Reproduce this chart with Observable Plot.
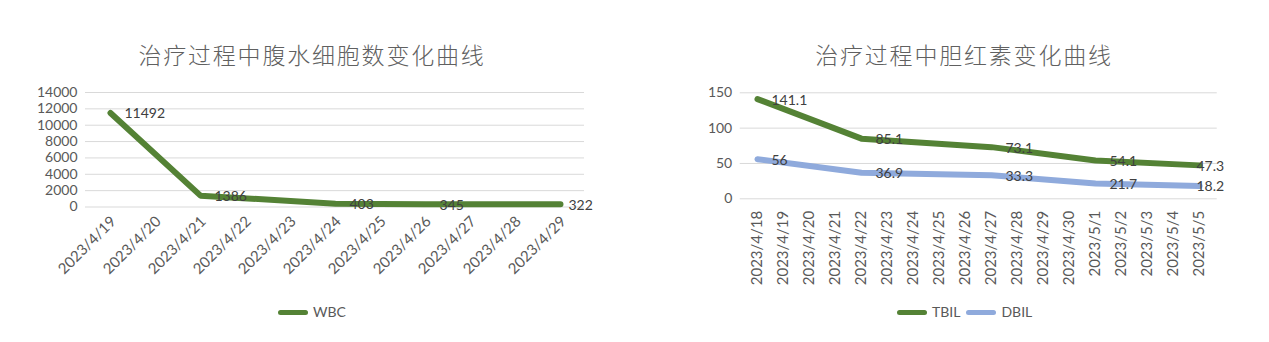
<!DOCTYPE html>
<html><head><meta charset="utf-8">
<script src="https://cdn.jsdelivr.net/npm/d3@7"></script>
<script src="https://cdn.jsdelivr.net/npm/@observablehq/plot@0.6"></script>
<style>
html,body{margin:0;padding:0;background:#fff;}
body{width:1269px;height:342px;position:relative;overflow:hidden;font-family:Lato,"Noto Sans CJK SC",sans-serif;}
.title{position:absolute;top:38px;font-family:"Noto Sans CJK SC";font-weight:300;font-size:23px;color:#606060;letter-spacing:1.8px;transform:translateX(-50%);white-space:nowrap;line-height:32px;}
.chart{position:absolute;top:80px;}
.legend{position:absolute;top:303px;display:flex;align-items:center;font-size:14px;line-height:18px;color:#595959;}
.sw{display:inline-block;width:30px;height:5px;border-radius:3px;margin-right:5px;}
</style></head><body>
<div class="title" style="left:312px">治疗过程中腹水细胞数变化曲线</div>
<div class="title" style="left:964px">治疗过程中胆红素变化曲线</div>
<div id="c1" class="chart" style="left:0"></div>
<div id="c2" class="chart" style="left:640px"></div>
<div id="l1" class="legend" style="left:278px"></div>
<div id="l2" class="legend" style="left:897px"></div>
<script>
// ---- Data: ascites WBC chart ----
const wbcCategories = ["2023/4/19","2023/4/20","2023/4/21","2023/4/22","2023/4/23","2023/4/24","2023/4/25","2023/4/26","2023/4/27","2023/4/28","2023/4/29"];
const wbcDates = ["2023/4/19","2023/4/21","2023/4/24","2023/4/26","2023/4/29"];
const wbcValues = [11492, 1386, 403, 345, 322];
const wbcTicks = [0, 2000, 4000, 6000, 8000, 10000, 12000, 14000];
const wbcSeries = ["WBC"];

// ---- Data: bilirubin chart ----
const bilCategories = ["2023/4/18","2023/4/19","2023/4/20","2023/4/21","2023/4/22","2023/4/23","2023/4/24","2023/4/25","2023/4/26","2023/4/27","2023/4/28","2023/4/29","2023/4/30","2023/5/1","2023/5/2","2023/5/3","2023/5/4","2023/5/5"];
const bilDates = ["2023/4/18","2023/4/22","2023/4/27","2023/5/1","2023/5/5"];
const tbilValues = [141.1, 85.1, 73.1, 54.1, 47.3];
const dbilValues = [56, 36.9, 33.3, 21.7, 18.2];
const bilTicks = [0, 50, 100, 150];
const bilSeries = ["TBIL", "DBIL"];

const colors = {WBC: "#548235", TBIL: "#548235", DBIL: "#8faadc"};

const baseStyle = {fontFamily: "Lato", fontSize: "14px", color: "#595959", background: "transparent", overflow: "visible"};

// ---- Chart 1 ----
const wbcRows = wbcDates.map((d, i) => ({date: d, value: wbcValues[i]}));
const p1 = Plot.plot({
  width: 620, height: 215,
  marginTop: 12, marginBottom: 88.5, marginLeft: 85, marginRight: 36,
  style: baseStyle,
  x: {type: "point", domain: wbcCategories, padding: 0.5},
  y: {domain: [0, 14000]},
  marks: [
    Plot.ruleY(wbcTicks, {stroke: "#d9d9d9", strokeWidth: 1}),
    Plot.axisY({ticks: wbcTicks, tickFormat: "d", tickSize: 0, tickPadding: 8, label: null, fontSize: 14}),
    Plot.axisX({tickRotate: -45, tickSize: 0, tickPadding: 12, dx: 3, label: null, fontSize: 15}),
    Plot.line(wbcRows, {x: "date", y: "value", stroke: colors.WBC, strokeWidth: 6, strokeLinejoin: "round", strokeLinecap: "round"}),
    Plot.text(wbcRows.slice(0, -1), {x: "date", y: "value", text: d => String(d.value), dx: 14, dy: 1, textAnchor: "start", fill: "#404040", fontSize: 14}),
    Plot.text(wbcRows.slice(-1), {x: "date", y: "value", text: d => String(d.value), dx: 8, dy: 1, textAnchor: "start", fill: "#404040", fontSize: 14})
  ]
});
document.getElementById("c1").append(p1);

// ---- Chart 2 ----
const bilRows = [];
bilSeries.forEach(s => {
  const vals = s === "TBIL" ? tbilValues : dbilValues;
  bilDates.forEach((d, i) => bilRows.push({series: s, date: d, value: vals[i], last: i === bilDates.length - 1}));
});
const p2 = Plot.plot({
  width: 629, height: 215,
  marginTop: 12.3, marginBottom: 96.7, marginLeft: 99.75, marginRight: 52.25,
  style: baseStyle,
  x: {type: "point", domain: bilCategories, padding: 0.5},
  y: {domain: [0, 150]},
  marks: [
    Plot.ruleY(bilTicks, {stroke: "#d9d9d9", strokeWidth: 1}),
    Plot.axisY({ticks: bilTicks, tickFormat: "d", tickSize: 0, tickPadding: 8, label: null, fontSize: 14}),
    Plot.axisX({tickRotate: -90, tickSize: 0, tickPadding: 12, label: null, fontSize: 15}),
    Plot.line(bilRows, {x: "date", y: "value", z: "series", stroke: d => colors[d.series], strokeWidth: 6, strokeLinejoin: "round", strokeLinecap: "round"}),
    Plot.text(bilRows.filter(d => !d.last), {x: "date", y: "value", text: d => String(d.value), dx: 14, dy: 1, textAnchor: "start", fill: "#404040", fontSize: 14}),
    Plot.text(bilRows.filter(d => d.last), {x: "date", y: "value", text: d => String(d.value), dx: -3, dy: 1, textAnchor: "start", fill: "#404040", fontSize: 14})
  ]
});
document.getElementById("c2").append(p2);

// ---- Legends ----
function legend(el, names) {
  names.forEach((n, i) => {
    const sw = document.createElement("span");
    sw.className = "sw";
    sw.style.background = colors[n];
    if (i > 0) sw.style.marginLeft = "6px";
    el.append(sw);
    el.append(document.createTextNode(n));
  });
}
legend(document.getElementById("l1"), wbcSeries);
legend(document.getElementById("l2"), bilSeries);
</script>
</body></html>
